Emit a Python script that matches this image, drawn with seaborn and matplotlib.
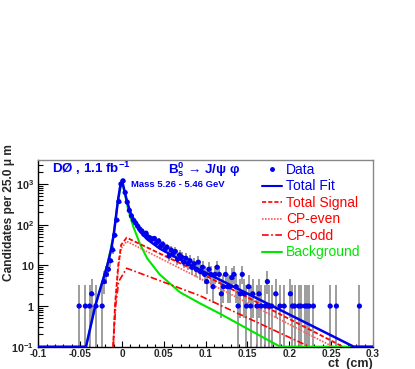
import numpy as np
import pandas as pd
import seaborn as sns
import matplotlib.pyplot as plt
from matplotlib.lines import Line2D
from matplotlib.ticker import FixedLocator, MultipleLocator, LogLocator, NullFormatter

# ct histogram: 160 bins of 25 um between -0.1 and 0.3 cm
bin_lo = -0.1
bin_w = 0.0025
counts = [
    0, 0, 0, 0, 0, 0, 0, 0, 0, 0, 0, 0, 0, 0, 0, 0, 0, 0, 0, 1,
    0, 0, 1, 0, 1, 2, 0, 1, 0, 0, 1, 4, 6, 8, 13, 24, 55, 130, 370, 1000,
    1200, 620, 360, 225, 165, 130, 110, 92, 78, 70, 58, 62, 50, 47, 44, 46, 36, 40, 30, 33,
    25, 28, 17, 24, 20, 22, 14, 18, 16, 12, 15, 11, 13, 9, 11, 8, 12, 7, 9, 6,
    4, 8, 6, 3, 6, 9, 6, 2, 3, 6, 3, 3, 5, 6, 3, 1, 2, 6, 2, 1,
    3, 1, 2, 0, 1, 2, 1, 0, 1, 4, 1, 1, 0, 2, 0, 1, 0, 1, 0, 0,
    2, 1, 1, 0, 1, 1, 0, 1, 1, 1, 0, 1, 0, 0, 0, 0, 0, 0, 0, 1,
    0, 0, 1, 0, 0, 0, 0, 0, 0, 0, 0, 0, 0, 1, 0, 0, 0, 0, 0, 0,
]

# fit curves, knots (ct in cm, candidates per bin)
fit_ct = [-0.1, -0.043, -0.032, -0.0176, -0.013, -0.010, -0.0075, -0.005, -0.0025, 0.0,
          0.0025, 0.0056, 0.0095, 0.0134, 0.0214, 0.030, 0.045, 0.069, 0.093, 0.277, 0.3]
fit_val = [0.1, 0.1, 1, 10, 24, 55, 140, 370, 800, 1250,
           750, 410, 215, 135, 68, 44, 26, 14, 7.8, 0.1, 0.1]

sig_ct = [-0.0105, -0.0084, -0.0045, -0.001, 0.0056, 0.093, 0.264]
sig_val = [0.1, 1, 10, 32, 48, 6.6, 0.1]

even_ct = [-0.0105, -0.0084, -0.0045, -0.001, 0.0056, 0.093, 0.252]
even_val = [0.1, 0.8, 8, 26, 39, 4.8, 0.1]

odd_ct = [-0.0105, -0.0075, -0.004, 0.0056, 0.093, 0.224]
odd_val = [0.1, 1, 4, 8.5, 1.8, 0.1]

bkg_ct = [-0.043, -0.032, -0.0176, -0.010, -0.005, 0.0, 0.0035, 0.0075, 0.0135,
          0.0214, 0.030, 0.045, 0.069, 0.093, 0.117, 0.189, 0.3]
bkg_val = [0.1, 1, 10, 55, 370, 1200, 560, 230, 90,
           34, 15, 6.0, 2.2, 1.17, 0.65, 0.1, 0.1]

x_ticks = [-0.1, -0.05, 0, 0.05, 0.1, 0.15, 0.2, 0.25, 0.3]
x_tick_labels = ['-0.1', '-0.05', '0', '0.05', '0.1', '0.15', '0.2', '0.25', '0.3']
y_ticks = [0.1, 1, 10, 100, 1000]
y_tick_labels = [r'$\mathbf{10^{-1}}$', r'$\mathbf{1}$', r'$\mathbf{10}$',
                 r'$\mathbf{10^{2}}$', r'$\mathbf{10^{3}}$']

BLUE = '#0000ee'
RED = '#ff0000'
PINK = '#ff5a5a'
GREEN = '#00e600'

sns.set_style('ticks')
plt.rcParams['font.family'] = ['Liberation Sans', 'DejaVu Sans']
plt.rcParams['mathtext.fontset'] = 'custom'
plt.rcParams['mathtext.rm'] = 'Liberation Sans'
plt.rcParams['mathtext.bf'] = 'Liberation Sans:bold'

df = pd.DataFrame({'ct': bin_lo + bin_w * (np.arange(len(counts)) + 0.5), 'n': counts})
df = df[df['n'] > 0]
# poisson-ish asymmetric errors, low side clipped at the frame
err_hi = df['n'] + np.sqrt(df['n'] + 0.75) + 1
err_lo = np.clip(df['n'] - np.sqrt(df['n'] + 0.25), 0.1, None)

fig = plt.figure(figsize=(4.15, 3.69), dpi=100)
ax = fig.add_axes([0.0923, 0.0604, 0.8065, 0.506])
ax.set_yscale('log')

ax.vlines(df['ct'], err_lo, err_hi, color='#8c8c8c', lw=1.2, zorder=2)
ax.hlines(df['n'], df['ct'] - bin_w, df['ct'] + bin_w, color=BLUE, lw=1.0, zorder=3)

sns.lineplot(x=bkg_ct, y=bkg_val, ax=ax, color=GREEN, lw=1.5, estimator=None, zorder=4)
sns.lineplot(x=odd_ct, y=odd_val, ax=ax, color=RED, lw=1.2, estimator=None, zorder=4,
             linestyle=(0, (4, 1.5, 1, 1.5)))
sns.lineplot(x=even_ct, y=even_val, ax=ax, color=PINK, lw=1.2, estimator=None, zorder=4,
             linestyle=(0, (1, 0.8)))
sns.lineplot(x=sig_ct, y=sig_val, ax=ax, color=RED, lw=1.3, estimator=None, zorder=4,
             linestyle=(0, (2.5, 1.2)))
sns.lineplot(x=fit_ct, y=fit_val, ax=ax, color=BLUE, lw=1.8, estimator=None, zorder=5)
sns.scatterplot(data=df, x='ct', y='n', ax=ax, color=BLUE, s=14, edgecolor='none', zorder=6)

ax.set_xlim(-0.1, 0.3)
ax.set_ylim(0.1, 3900)

ax.xaxis.set_major_locator(FixedLocator(x_ticks))
ax.xaxis.set_minor_locator(MultipleLocator(0.01))
ax.set_xticklabels(x_tick_labels, fontweight='bold', fontsize=7.2)
ax.yaxis.set_major_locator(FixedLocator(y_ticks))
ax.yaxis.set_minor_locator(LogLocator(base=10, subs=np.arange(2, 10)))
ax.yaxis.set_minor_formatter(NullFormatter())
ax.set_yticklabels(y_tick_labels, fontsize=7.8)
ax.tick_params(which='both', direction='in', top=False, right=False, color='black', pad=2)
ax.tick_params(axis='y', pad=3)
ax.tick_params(axis='x', which='major', length=4.5, width=0.8)
ax.tick_params(axis='x', which='minor', length=2.2, width=0.8)
ax.tick_params(axis='y', which='major', length=7, width=0.8)
ax.tick_params(axis='y', which='minor', length=3.5, width=0.8)

for side in ['left', 'bottom']:
    ax.spines[side].set_color('black')
    ax.spines[side].set_linewidth(1.0)
for side in ['top', 'right']:
    ax.spines[side].set_color('#888888')
    ax.spines[side].set_linewidth(1.0)

ax.set_ylabel(u'Candidates per 25.0 \u03bc m', fontweight='bold', fontsize=8.6)
ax.yaxis.set_label_coords(-0.07, 0.716)
ax.set_xlabel('ct  (cm)', fontweight='bold', fontsize=9, ha='right')
ax.xaxis.set_label_coords(1.0, -0.062)

ax.text(0.041, 0.928, u'D\u00d8 , 1.1 fb' + r'$^{\mathbf{-1}}$',
        transform=ax.transAxes, color=BLUE, fontweight='bold', fontsize=9.6, va='baseline')
ax.text(0.387, 0.928, r'$\mathbf{B_{s}^{0}}$' + u' \u2192 J/\u03c8 \u03c6', transform=ax.transAxes,
        color=BLUE, fontweight='bold', fontsize=9.6, va='baseline')
ax.text(0.277, 0.857, 'Mass 5.26 - 5.46 GeV', transform=ax.transAxes, color=BLUE,
        fontweight='bold', fontsize=6.8, va='baseline')

handles = [
    Line2D([], [], color=BLUE, marker='o', markersize=2.5, linestyle='none'),
    Line2D([], [], color=BLUE, lw=1.5),
    Line2D([], [], color=RED, lw=1.2, linestyle=(0, (2.5, 1.2))),
    Line2D([], [], color=PINK, lw=1.2, linestyle=(0, (1, 0.8))),
    Line2D([], [], color=RED, lw=1.2, linestyle=(0, (4, 1.5, 1, 1.5))),
    Line2D([], [], color=GREEN, lw=1.5),
]
labels = ['Data', 'Total Fit', 'Total Signal', 'CP-even', 'CP-odd', 'Background']
leg = ax.legend(handles, labels, loc='upper left', bbox_to_anchor=(0.668, 0.984), frameon=False,
                fontsize=10, handlelength=1.45, handletextpad=0.3, labelspacing=0.18,
                borderpad=0.0, borderaxespad=0.0)
for txt, col in zip(leg.get_texts(), [BLUE, BLUE, RED, RED, RED, GREEN]):
    txt.set_color(col)

fig.savefig('out.png', dpi=100)
